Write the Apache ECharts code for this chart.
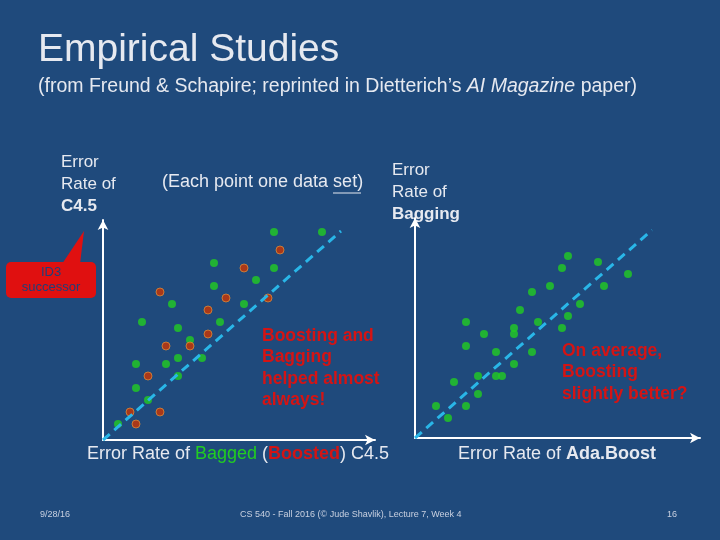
<!DOCTYPE html>
<html><head><meta charset="utf-8">
<script src="https://cdn.jsdelivr.net/npm/echarts@6/dist/echarts.min.js"></script>
<style>html,body{margin:0;padding:0;background:#1f4a7c}#c{width:720px;height:540px}</style>
</head><body><div id="c"></div>
<script>
// left plot: Boosted vs C4.5 (green) and Bagged vs C4.5 (red)
var leftGreen = [[171,208],[219,208],[111,177],[171,172],[153,160],[111,154],[69,136],[141,136],[39,118],[75,112],[117,118],[87,100],[33,76],[63,76],[75,82],[99,82],[75,64],[33,52],[45,40],[15,16]];
var leftRed = [[177,190],[141,172],[57,148],[123,142],[165,142],[105,130],[105,106],[63,94],[87,94],[45,64],[27,28],[57,28],[33,16]];
var leftDiag = [[0,0],[238,209]];
// right plot: Bagging vs AdaBoost
var rightGreen = [[153,182],[183,176],[147,170],[213,164],[135,152],[189,152],[117,146],[165,134],[105,128],[153,122],[51,116],[123,116],[99,110],[147,110],[69,104],[99,104],[51,92],[81,86],[117,86],[99,74],[63,62],[81,62],[87,62],[39,56],[63,44],[21,32],[51,32],[33,20]];
var rightDiag = [[0,0],[237,208]];

var txt = '#e6e9f0';
function ax(max, idx){
  return {type:'value', gridIndex:idx, min:0, max:max, splitLine:{show:false}, axisTick:{show:false}, axisLabel:{show:false},
    axisLine:{lineStyle:{color:'#fff',width:2}, symbol:['none','arrow'], symbolSize:[8,10]}};
}
var green = {color:'#22cc22'};
var red = {color:'#cc3300', borderColor:'#d98a3a', borderWidth:1};
var dash = {color:'#29b6e8', width:3, type:[9,6]};

var myChart = echarts.init(document.getElementById('c'));
myChart.setOption({
  backgroundColor:'#1f4a7c',
  animation:false,
  grid:[{left:103,top:220,width:272,height:220},{left:415,top:218,width:285,height:220}],
  xAxis:[ax(272,0),ax(285,1)],
  yAxis:[ax(220,0),ax(220,1)],
  series:[
    {type:'line',xAxisIndex:0,yAxisIndex:0,data:leftDiag,symbol:'none',lineStyle:dash},
    {type:'scatter',xAxisIndex:0,yAxisIndex:0,data:leftGreen,symbolSize:8,itemStyle:green},
    {type:'scatter',xAxisIndex:0,yAxisIndex:0,data:leftRed,symbolSize:8,itemStyle:red},
    {type:'line',xAxisIndex:1,yAxisIndex:1,data:rightDiag,symbol:'none',lineStyle:dash},
    {type:'scatter',xAxisIndex:1,yAxisIndex:1,data:rightGreen,symbolSize:8,itemStyle:green}
  ],
  graphic:[
    {type:'text',left:38,top:31,style:{text:'Empirical Studies',fill:txt,font:'39px "Liberation Sans"'}},
    {type:'text',left:38,top:77,style:{rich:{a:{fill:txt,font:'19.5px "Liberation Sans"'},i:{fill:txt,font:'italic 19.5px "Liberation Sans"'}},
      text:'{a|(from Freund & Schapire; reprinted in Dietterich\u2019s }{i|AI Magazine}{a| paper)}'}},
    {type:'text',left:61,top:154,style:{rich:{a:{fill:txt,font:'17px "Liberation Sans"',lineHeight:22},b:{fill:txt,font:'bold 17px "Liberation Sans"',lineHeight:22}},
      text:'{a|Error}\n{a|Rate of}\n{b|C4.5}'}},
    {type:'text',left:162,top:173,style:{text:'(Each point one data set)',fill:txt,font:'18px "Liberation Sans"'}},
    {type:'line',shape:{x1:333,y1:193,x2:361,y2:193},style:{stroke:txt,lineWidth:1}},
    {type:'text',left:392,top:162,style:{rich:{a:{fill:txt,font:'17px "Liberation Sans"',lineHeight:22},b:{fill:txt,font:'bold 17px "Liberation Sans"',lineHeight:22}},
      text:'{a|Error}\n{a|Rate of}\n{b|Bagging}'}},
    {type:'polygon',shape:{points:[[62,264],[84,231],[80,264]]},style:{fill:'#e01010'}},
    {type:'rect',shape:{x:6,y:262,width:90,height:36,r:5},style:{fill:'#e01010'}},
    {type:'text',x:51,y:265,style:{text:'ID3\nsuccessor',fill:'#1f3f7a',font:'13px "Liberation Sans"',lineHeight:15,textAlign:'center'}},
    {type:'text',left:262,top:325,style:{text:'Boosting and\nBagging\nhelped almost\nalways!',fill:'#d41414',font:'bold 17.5px "Liberation Sans"',lineHeight:21.5}},
    {type:'text',left:562,top:340,style:{text:'On average,\nBoosting\nslightly better?',fill:'#d41414',font:'bold 17.5px "Liberation Sans"',lineHeight:21.5}},
    {type:'text',left:87,top:445,style:{rich:{a:{fill:txt,font:'18px "Liberation Sans"'},g:{fill:'#22cc22',font:'18px "Liberation Sans"'},r:{fill:'#d41414',font:'bold 18px "Liberation Sans"'}},
      text:'{a|Error Rate of }{g|Bagged}{a| (}{r|Boosted}{a|) C4.5}'}},
    {type:'text',left:458,top:445,style:{rich:{a:{fill:txt,font:'18px "Liberation Sans"'},b:{fill:txt,font:'bold 18px "Liberation Sans"'}},
      text:'{a|Error Rate of }{b|Ada.Boost}'}},
    {type:'text',left:40,top:510,style:{text:'9/28/16',fill:'#c8d0e0',font:'9px "Liberation Sans"'}},
    {type:'text',left:240,top:510,style:{text:'CS 540 - Fall 2016 (\u00a9 Jude Shavlik), Lecture 7, Week 4',fill:'#c8d0e0',font:'9px "Liberation Sans"'}},
    {type:'text',left:667,top:510,style:{text:'16',fill:'#c8d0e0',font:'9px "Liberation Sans"'}}
  ]
});
</script></body></html>
